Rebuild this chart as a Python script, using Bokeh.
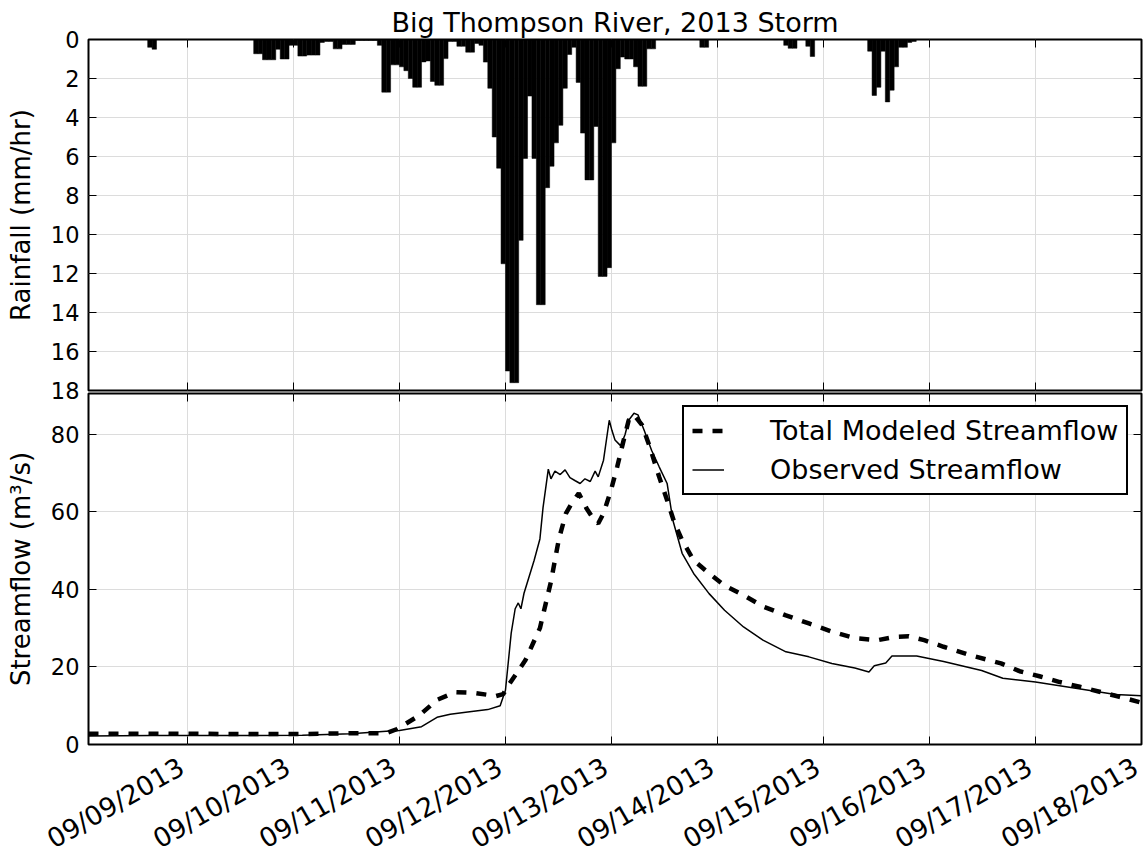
import math
import pandas as pd
from bokeh.plotting import figure
from bokeh.models import (Range1d, DatetimeAxis, LinearAxis, DaysTicker, DatetimeTickFormatter,
                          SingleIntervalTicker, Legend, LegendItem, ColumnDataSource,
                          CustomJSTickFormatter)
from bokeh.layouts import column
from bokeh.embed import file_html
from bokeh.resources import INLINE

FONT = "DejaVu Sans"

title_text = "Big Thompson River, 2013 Storm"
rain_label = "Rainfall (mm/hr)"
flow_label = "Streamflow (m\u00b3/s)"
legend_labels = ["Total Modeled Streamflow", "Observed Streamflow"]
date_format = "%m/%d/%Y"

x_start = "2013-09-08 01:36"
x_end = "2013-09-18 00:00"

# hourly rainfall (mm/hr), first hour starting 2013-09-08 15:00
rain_first_hour = "2013-09-08 15:00"
rain_mm_hr = [
    0.4, 0.5, 0, 0, 0, 0, 0, 0, 0,
    0, 0, 0, 0, 0, 0, 0, 0, 0, 0, 0, 0, 0, 0, 0, 0.73, 0.73, 1.04, 1.04, 1.04, 0.5, 1.0, 1.0, 0.3,
    0.3, 0.85, 0.85, 0.8, 0.8, 0.8, 0.15, 0.1, 0.1, 0.48, 0.48, 0.25, 0.25, 0.25, 0.05, 0.05, 0.05, 0.05, 0.05, 0.3, 2.7, 2.7, 1.3, 1.3,
    1.4, 1.6, 2.0, 2.45, 2.45, 1.15, 1.1, 2.15, 2.35, 2.35, 0.98, 0.1, 0.1, 0.35, 0.35, 0.65, 0.65, 0.2, 0.3, 1.16, 2.5, 5.0, 6.6, 11.5,
    17.0, 17.6, 17.6, 10.3, 6.1, 2.9, 6.1, 13.6, 13.6, 7.6, 6.5, 5.3, 4.4, 2.5, 0.77, 0.4, 2.2, 4.8, 7.2, 7.2, 4.46, 12.15, 12.15, 11.7,
    5.3, 1.5, 0.9, 1.0, 1.0, 1.4, 2.4, 2.4, 0.48, 0.48, 0, 0, 0, 0, 0, 0, 0, 0, 0, 0, 0.4, 0.4, 0, 0,
    0, 0, 0, 0, 0, 0, 0, 0, 0, 0, 0, 0, 0, 0, 0, 0.3, 0.45, 0.45, 0, 0, 0.35, 0.87, 0, 0,
    0, 0, 0, 0, 0, 0, 0, 0, 0, 0, 0.6, 2.87, 2.45, 0.6, 3.2, 2.6, 1.4, 0.4, 0.4, 0.15, 0.1, 0, 0, 0,
]

obs_time = ["2013-09-08 01:36", "2013-09-08 16:00", "2013-09-09 14:00", "2013-09-10 02:00", "2013-09-10 13:00",
            "2013-09-10 21:00", "2013-09-11 00:00", "2013-09-11 05:00", "2013-09-11 08:30", "2013-09-11 11:30",
            "2013-09-11 15:00", "2013-09-11 20:00", "2013-09-11 22:48", "2013-09-12 00:00", "2013-09-12 01:18",
            "2013-09-12 02:12", "2013-09-12 02:54", "2013-09-12 03:30", "2013-09-12 04:12", "2013-09-12 06:30",
            "2013-09-12 07:48", "2013-09-12 08:30", "2013-09-12 09:42", "2013-09-12 10:18", "2013-09-12 11:12",
            "2013-09-12 12:24", "2013-09-12 13:30", "2013-09-12 14:36", "2013-09-12 15:48", "2013-09-12 16:54",
            "2013-09-12 18:00", "2013-09-12 19:12", "2013-09-12 20:18", "2013-09-12 21:00", "2013-09-12 22:12",
            "2013-09-12 23:30", "2013-09-13 00:06", "2013-09-13 00:48", "2013-09-13 02:06", "2013-09-13 03:06",
            "2013-09-13 03:54", "2013-09-13 05:06", "2013-09-13 06:00", "2013-09-13 07:24", "2013-09-13 09:06",
            "2013-09-13 10:48", "2013-09-13 12:36", "2013-09-13 13:54", "2013-09-13 16:00", "2013-09-13 18:36",
            "2013-09-13 22:06", "2013-09-14 01:36", "2013-09-14 05:54", "2013-09-14 10:18", "2013-09-14 15:30",
            "2013-09-14 20:42", "2013-09-15 01:54", "2013-09-15 07:06", "2013-09-15 10:18", "2013-09-15 11:30",
            "2013-09-15 14:06", "2013-09-15 15:30", "2013-09-15 21:06", "2013-09-16 03:12", "2013-09-16 11:48",
            "2013-09-16 16:36", "2013-09-17 00:00", "2013-09-17 09:06", "2013-09-17 18:06", "2013-09-18 00:00"]
obs_flow = [2.2, 2.3, 2.3, 2.4, 2.8, 3.4, 3.6, 4.6, 7.0, 7.8, 8.3, 9.0, 10.0, 14.0, 28.7, 35.0, 36.5, 35.0, 39.0,
            47.5, 53.0, 61.0, 71.0, 68.5, 70.5, 69.6, 70.8, 68.8, 68.0, 67.3, 68.5, 67.8, 70.5, 69.0, 73.3, 83.6,
            81.0, 78.5, 77.0, 80.0, 83.6, 85.4, 85.0, 81.0, 75.8, 71.6, 67.3, 57.8, 49.3, 44.1, 38.9, 34.6, 30.3,
            26.9, 23.9, 22.6, 20.9, 19.7, 18.7, 20.3, 21.0, 22.8, 22.8, 21.4, 19.1, 17.1, 16.1, 14.5, 12.9, 12.6]

mod_time = ["2013-09-08 01:36", "2013-09-08 16:00", "2013-09-09 14:00", "2013-09-10 02:00", "2013-09-10 13:00",
            "2013-09-10 21:00", "2013-09-10 23:30", "2013-09-11 04:30", "2013-09-11 08:30", "2013-09-11 12:36",
            "2013-09-11 16:54", "2013-09-11 21:54", "2013-09-11 23:30", "2013-09-12 01:06", "2013-09-12 04:30",
            "2013-09-12 07:48", "2013-09-12 10:18", "2013-09-12 12:06", "2013-09-12 13:42", "2013-09-12 14:54",
            "2013-09-12 16:36", "2013-09-12 18:18", "2013-09-12 20:06", "2013-09-12 21:00", "2013-09-12 22:12",
            "2013-09-12 23:54", "2013-09-13 01:18", "2013-09-13 02:36", "2013-09-13 03:54", "2013-09-13 05:06",
            "2013-09-13 06:54", "2013-09-13 08:36", "2013-09-13 10:48", "2013-09-13 12:36", "2013-09-13 14:18",
            "2013-09-13 16:00", "2013-09-13 18:36", "2013-09-13 22:06", "2013-09-14 01:36", "2013-09-14 05:54",
            "2013-09-14 10:18", "2013-09-14 15:30", "2013-09-14 20:42", "2013-09-15 01:54", "2013-09-15 07:06",
            "2013-09-15 12:18", "2013-09-15 15:54", "2013-09-15 19:18", "2013-09-15 22:48", "2013-09-16 03:12",
            "2013-09-16 09:18", "2013-09-16 16:12", "2013-09-16 20:24", "2013-09-17 00:54", "2013-09-17 05:30",
            "2013-09-17 10:00", "2013-09-17 14:30", "2013-09-17 19:00", "2013-09-18 00:00"]
mod_flow = [2.8, 2.8, 2.7, 2.7, 2.9, 2.9, 4.0, 7.5, 11.5, 13.5, 13.3, 12.5, 13.0, 16.0, 21.7, 30.0, 42.0, 53.0,
            59.6, 62.0, 64.8, 61.0, 57.8, 57.0, 59.6, 65.6, 71.6, 77.7, 83.6, 85.0, 82.4, 77.0, 69.0, 63.0, 57.0,
            52.7, 47.5, 44.1, 41.0, 38.5, 35.6, 33.3, 31.2, 29.1, 27.4, 26.9, 27.7, 27.9, 26.9, 25.2, 23.0, 20.9,
            18.9, 17.6, 16.1, 14.9, 13.6, 12.3, 10.8]

# ---------------------------------------------------------------------------
hour = pd.Timedelta(hours=1)
rain_start = pd.date_range(rain_first_hour, periods=len(rain_mm_hr), freq="h")
rain_src = ColumnDataSource(dict(x=rain_start + hour / 2, top=rain_mm_hr))
obs_src = ColumnDataSource(dict(t=pd.to_datetime(obs_time), q=obs_flow))
mod_src = ColumnDataSource(dict(t=pd.to_datetime(mod_time), q=mod_flow))

x_range = Range1d(pd.Timestamp(x_start), pd.Timestamp(x_end))
# the rotated date labels sit a few pixels left of their ticks (right-aligned)
label_shift = pd.Timedelta(minutes=80)
label_range = Range1d(pd.Timestamp(x_start) + label_shift, pd.Timestamp(x_end) + label_shift)

GRID = "#dcdcdc"
TICK_FONT = "22.5px"
LABEL_FONT = "26px"


def x_ticker():
    return DaysTicker(days=list(range(1, 32)))


def x_formatter():
    return DatetimeTickFormatter(days=date_format, months=date_format, hours=date_format,
                                 hourmin=date_format, years=date_format)


def style(ax, show_labels, ticks=True):
    ax.axis_line_color = None
    ax.major_tick_in = 8 if ticks else 0
    ax.major_tick_out = 0
    ax.minor_tick_in = 0
    ax.minor_tick_out = 0
    ax.major_tick_line_color = "black" if ticks else None
    ax.major_tick_line_width = 1
    ax.major_label_text_font = FONT
    ax.major_label_text_color = "black"
    ax.axis_label_text_font = FONT
    ax.axis_label_text_color = "black"
    ax.axis_label_text_font_style = "normal"
    ax.axis_label_text_font_size = LABEL_FONT
    if show_labels:
        ax.major_label_text_font_size = TICK_FONT
        ax.major_label_standoff = 9
    else:
        ax.formatter = CustomJSTickFormatter(code="return '';")
        ax.major_label_text_font_size = "1px"
        ax.major_label_standoff = 0


def base(fig):
    fig.outline_line_color = "black"
    fig.outline_line_width = 2
    fig.outline_line_alpha = 1
    fig.background_fill_color = "white"
    fig.xgrid.grid_line_color = GRID
    fig.ygrid.grid_line_color = GRID
    fig.xgrid.grid_line_width = 1
    fig.ygrid.grid_line_width = 1


# ---------------- top: rainfall -------------------------------------------
p1 = figure(x_axis_type="datetime", x_range=x_range, y_range=Range1d(18, 0),
            frame_width=1053, frame_height=351, output_backend="svg", toolbar_location=None,
            min_border_left=88, min_border_right=2, min_border_top=39, min_border_bottom=16)
base(p1)
p1.border_fill_color = "white"
p1.title.text = title_text
p1.title.text_font = FONT
p1.title.text_font_size = "27px"
p1.title.text_font_style = "normal"
p1.title.text_color = "black"
p1.title.align = "center"
p1.title.standoff = 3

p1.vbar(x="x", top="top", bottom=0, width=hour, source=rain_src,
        fill_color="black", line_color="black", line_width=0.5)

p1.xaxis.ticker = x_ticker()
style(p1.xaxis[0], False)
p1.yaxis.ticker = SingleIntervalTicker(interval=2, num_minor_ticks=0)
p1.yaxis.axis_label = rain_label
p1.yaxis.axis_label_standoff = 12
style(p1.yaxis[0], True)
p1.xgrid.ticker = p1.xaxis[0].ticker
p1.ygrid.ticker = p1.yaxis[0].ticker

top1 = DatetimeAxis(ticker=x_ticker())
style(top1, False)
p1.add_layout(top1, "above")
right1 = LinearAxis(ticker=SingleIntervalTicker(interval=2, num_minor_ticks=0))
style(right1, False)
p1.add_layout(right1, "right")

# ---------------- bottom: streamflow --------------------------------------
p2 = figure(x_axis_type="datetime", x_range=x_range, y_range=Range1d(0, 90.5),
            frame_width=1053, frame_height=351, output_backend="svg", toolbar_location=None,
            min_border_left=88, min_border_right=2, min_border_top=1, min_border_bottom=111)
base(p2)
p2.border_fill_alpha = 0
p2.margin = (-14, 0, 0, 0)
p2.extra_x_ranges = {"labels": label_range}

r_mod = p2.line("t", "q", source=mod_src, line_color="black", line_width=4.5,
                line_dash="10 10", line_cap="butt")
r_obs = p2.line("t", "q", source=obs_src, line_color="black", line_width=1.5)

p2.xaxis.ticker = x_ticker()
style(p2.xaxis[0], False)
lab_axis = DatetimeAxis(x_range_name="labels", ticker=x_ticker(), formatter=x_formatter())
style(lab_axis, True, ticks=False)
lab_axis.major_label_text_font_size = "26.5px"
lab_axis.major_label_orientation = math.pi / 6
lab_axis.major_label_standoff = 20
p2.add_layout(lab_axis, "below")

p2.yaxis.ticker = SingleIntervalTicker(interval=20, num_minor_ticks=0)
p2.yaxis.axis_label = flow_label
p2.yaxis.axis_label_standoff = 12
style(p2.yaxis[0], True)
p2.xgrid.ticker = p2.xaxis[0].ticker
p2.ygrid.ticker = p2.yaxis[0].ticker

top2 = DatetimeAxis(ticker=x_ticker())
style(top2, False)
p2.add_layout(top2, "above")
right2 = LinearAxis(ticker=SingleIntervalTicker(interval=20, num_minor_ticks=0))
style(right2, False)
p2.add_layout(right2, "right")

legend = Legend(items=[LegendItem(label=legend_labels[0], renderers=[r_mod]),
                       LegendItem(label=legend_labels[1], renderers=[r_obs])],
                location=(594, 249), label_text_font=FONT, label_text_font_size="27px",
                label_text_color="black",
                glyph_width=32, glyph_height=31, label_height=31, label_standoff=46,
                spacing=8, padding=8, margin=0,
                border_line_color="black", border_line_width=2, border_line_alpha=1,
                background_fill_color="white", background_fill_alpha=1)
p2.add_layout(legend)

layout = column(p1, p2, spacing=0)
open("out.html", "w").write(file_html(layout, INLINE))
